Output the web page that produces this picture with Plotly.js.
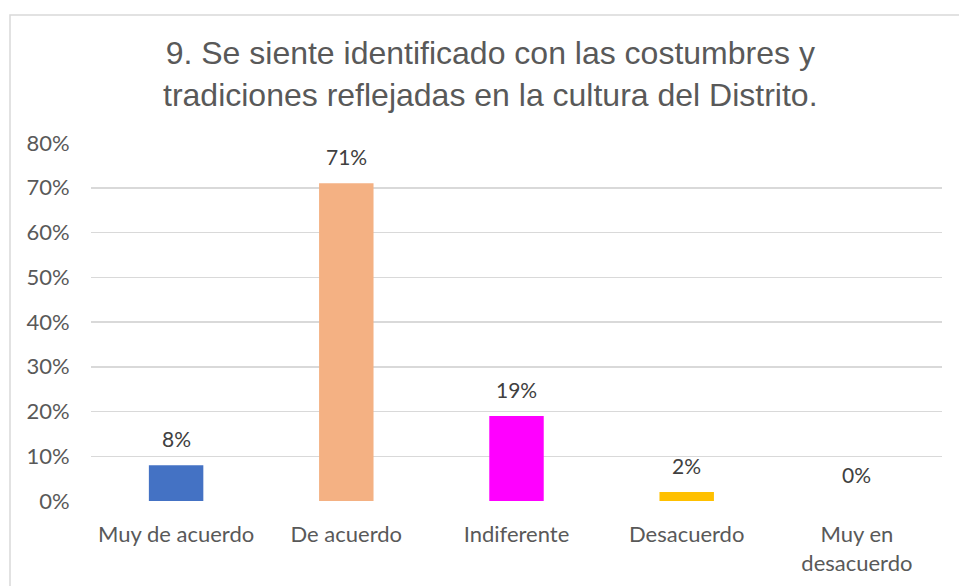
<!DOCTYPE html>
<html>
<head>
<meta charset="utf-8">
<script src="https://cdn.plot.ly/plotly-3.0.1.min.js"></script>
<style>
html,body{margin:0;padding:0;background:#fff;}
#chart{width:959px;height:586px;}
</style>
</head>
<body>
<div id="chart"></div>
<script>
const categories = ["Muy de acuerdo", "De acuerdo", "Indiferente", "Desacuerdo", "Muy en<br>desacuerdo"];
const values = [0.08, 0.71, 0.19, 0.02, 0.00];
const labels = ["8%", "71%", "19%", "2%", "0%"];
const colors = ["#4472C4", "#F4B183", "#FF00FF", "#FFC000", "#A5A5A5"];
const yTickVals = [0, 0.1, 0.2, 0.3, 0.4, 0.5, 0.6, 0.7, 0.8];
const yTickText = ["0%", "10%", "20%", "30%", "40%", "50%", "60%", "70%", "80%"];

const tickFont = {family: "Lato, 'Open Sans', sans-serif", size: 22, color: "#595959"};

const trace = {
  type: "bar",
  x: categories,
  y: values,
  marker: {color: colors},
  hoverinfo: "none"
};

const annotations = categories.map((c, i) => ({
  x: c, y: values[i], xref: "x", yref: "y",
  text: labels[i], showarrow: false,
  yanchor: "bottom", yshift: 12,
  font: {family: "Lato, 'Open Sans', sans-serif", size: 21, color: "#404040"}
}));

annotations.push({
  xref: "paper", yref: "paper", x: 0.469, y: 1.193,
  xanchor: "center", yanchor: "middle",
  text: "9. Se siente identificado con las costumbres y<br>tradiciones reflejadas en la cultura del Distrito.",
  showarrow: false,
  font: {family: "'Liberation Sans', Arial, sans-serif", size: 32, color: "#595959"}
});

const layout = {
  width: 959, height: 586,
  margin: {l: 91, r: 17, t: 143, b: 85},
  paper_bgcolor: "#ffffff",
  plot_bgcolor: "#ffffff",
  showlegend: false,
  bargap: 0.68,
  xaxis: {
    type: "category",
    showgrid: false, zeroline: false, showline: false,
    ticks: "outside", ticklen: 14, tickcolor: "rgba(0,0,0,0)",
    tickfont: tickFont
  },
  yaxis: {
    range: [0, 0.8],
    tickvals: yTickVals, ticktext: yTickText,
    showgrid: true, gridcolor: "#d9d9d9", gridwidth: 1.5,
    zeroline: false, showline: false,
    ticks: "outside", ticklen: 16, tickcolor: "rgba(0,0,0,0)",
    tickfont: tickFont
  },
  annotations: annotations,
  shapes: [{
    type: "rect", xref: "paper", yref: "paper",
    x0: (10 - 91) / 851, x1: 1.3, y0: -0.5, y1: (501 - 15) / 358,
    line: {color: "#d9d9d9", width: 1.5}, fillcolor: "rgba(0,0,0,0)", layer: "below"
  }]
};

Plotly.newPlot("chart", [trace], layout, {displayModeBar: false, staticPlot: true});
</script>
</body>
</html>
